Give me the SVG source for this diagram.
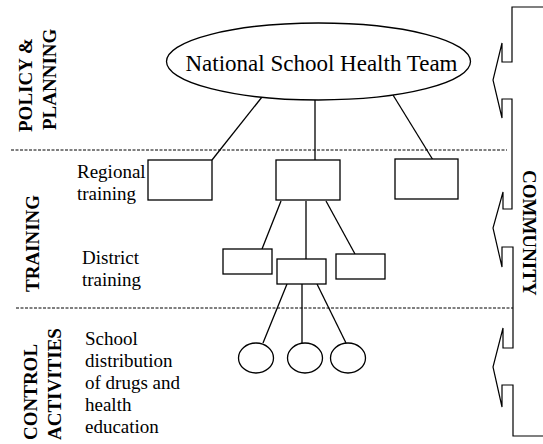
<svg xmlns="http://www.w3.org/2000/svg" width="543" height="444" viewBox="0 0 543 444">
<style>
.s{fill:none;stroke:#000;stroke-width:1.3}
.box{fill:#fff;stroke:#000;stroke-width:1.3}
.dash{fill:none;stroke:#000;stroke-width:1;stroke-dasharray:3 1.5}
.t{font-family:"Liberation Serif","Times New Roman",serif;font-size:19px;fill:#000}
.b{font-family:"Liberation Serif","Times New Roman",serif;font-size:19px;font-weight:bold;fill:#000}
</style>
<rect width="543" height="444" fill="#fff"/>
<g id="dividers">
<line class="dash" x1="11" y1="150" x2="507" y2="150"/>
<line class="dash" x1="16" y1="308" x2="513" y2="308"/>
</g>
<g id="section-labels">
<text class="b" transform="translate(32,132) rotate(-90)">POLICY &amp;</text>
<text class="b" transform="translate(56,130) rotate(-90)">PLANNING</text>
<text class="b" transform="translate(38.5,292) rotate(-90)">TRAINING</text>
<text class="b" transform="translate(37,440) rotate(-90)">CONTROL</text>
<text class="b" transform="translate(61,440) rotate(-90)">ACTIVITIES</text>
<text class="b" transform="translate(523,170) rotate(90)">COMMUNITY</text>
</g>
<g id="level-labels">
<text class="t" x="77" y="178">Regional</text>
<text class="t" x="77" y="200">training</text>
<text class="t" x="82" y="264">District</text>
<text class="t" x="82" y="286">training</text>
<text class="t" x="85" y="345">School</text>
<text class="t" x="85" y="367">distribution</text>
<text class="t" x="85" y="389">of drugs and</text>
<text class="t" x="85" y="411">health</text>
<text class="t" x="85" y="433">education</text>
</g>
<g id="connectors">
<line class="s" x1="262" y1="97" x2="212" y2="160"/>
<line class="s" x1="315" y1="100" x2="315" y2="160"/>
<line class="s" x1="393" y1="95" x2="433" y2="160"/>
<line class="s" x1="281" y1="201" x2="262" y2="249"/>
<line class="s" x1="306" y1="201" x2="306" y2="259"/>
<line class="s" x1="326" y1="201" x2="355" y2="254"/>
<line class="s" x1="287" y1="284" x2="263" y2="343"/>
<line class="s" x1="302" y1="284" x2="302" y2="343"/>
<line class="s" x1="317" y1="284" x2="346" y2="343"/>
</g>
<g id="national-team">
<ellipse class="box" cx="318.5" cy="61.5" rx="152" ry="38.5"/>
<text class="t" x="321.5" y="71" text-anchor="middle" style="font-size:23px">National School Health Team</text>
</g>
<g id="regional-1"><rect class="box" x="148" y="160" width="64" height="40"/></g>
<g id="regional-2"><rect class="box" x="276" y="160" width="64" height="40"/></g>
<g id="regional-3"><rect class="box" x="395" y="159" width="63" height="40"/></g>
<g id="district-1"><rect class="box" x="223" y="249" width="49" height="25"/></g>
<g id="district-2"><rect class="box" x="277" y="259" width="49" height="25"/></g>
<g id="district-3"><rect class="box" x="336" y="254" width="49" height="25"/></g>
<g id="school-1"><ellipse class="box" cx="256" cy="358" rx="17.5" ry="15"/></g>
<g id="school-2"><ellipse class="box" cx="305" cy="358" rx="17.5" ry="15"/></g>
<g id="school-3"><ellipse class="box" cx="348" cy="358" rx="17.5" ry="15"/></g>
<g id="community-bracket">
<path class="s" style="stroke-width:1.2" d="M543,7 H512 V62 H502 V43 L493,80 L502,118 V99 H512 V209 H503 V192 L493,228 L502,267 V247 H513 V348 H503 V328 L493,367 L502,407 V385 H513 V436 H543"/>
</g>
</svg>
